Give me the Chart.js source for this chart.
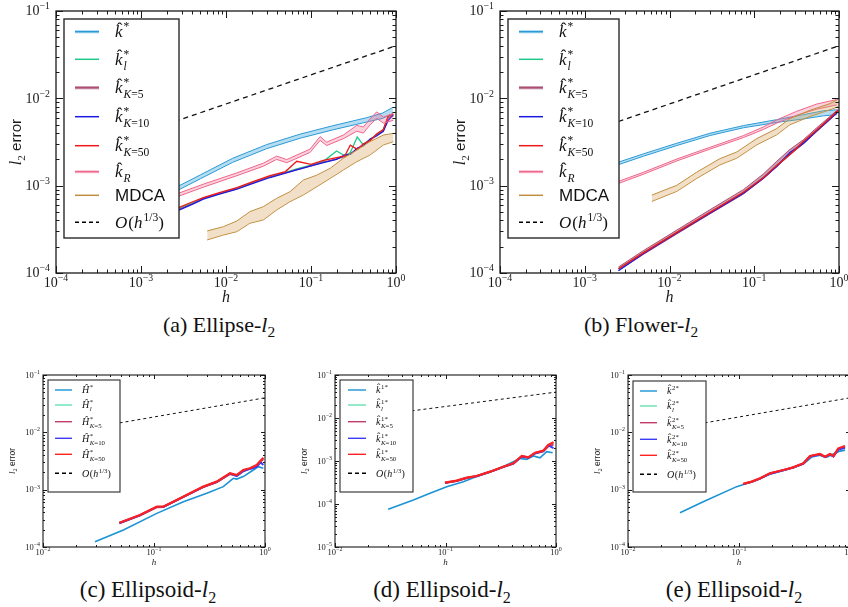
<!DOCTYPE html>
<html>
<head>
<meta charset="utf-8">
<title>l2 error</title>
<script src="https://cdn.jsdelivr.net/npm/chart.js@4.4.1/dist/chart.umd.min.js"></script>
<style>
  body { margin: 0; width: 848px; height: 607px; overflow: hidden; background: #fff; position: relative; }
  canvas { position: absolute; }
  .cap { position: absolute; font-family: 'Liberation Serif', serif; color: #111; transform: translateX(-50%); white-space: nowrap; line-height: 24px; }
  .cap sub { font-size: 70%; }
  .top { font-size: 22px; top: 313px; }
  .bot { font-size: 23px; top: 578px; }
</style>
</head>
<body>
<canvas id="cA" width="420" height="310" style="left:0;top:0"></canvas>
<canvas id="cB" width="428" height="310" style="left:420px;top:0"></canvas>
<canvas id="cC" width="290" height="215" style="left:0;top:360px"></canvas>
<canvas id="cD" width="290" height="215" style="left:290px;top:360px"></canvas>
<canvas id="cE" width="272" height="215" style="left:580px;top:360px"></canvas>
<div class="cap top" style="left:219px">(a) Ellipse-<i>l</i><sub>2</sub></div>
<div class="cap top" style="left:641px">(b) Flower-<i>l</i><sub>2</sub></div>
<div class="cap bot" style="left:148px">(c) Ellipsoid-<i>l</i><sub>2</sub></div>
<div class="cap bot" style="left:442px">(d) Ellipsoid-<i>l</i><sub>2</sub></div>
<div class="cap bot" style="left:734px">(e) Ellipsoid-<i>l</i><sub>2</sub></div>
<script>
// ---- axis ticks ----
const xTicksAB = [1e-4, 1e-3, 1e-2, 1e-1, 1];
const xExpAB = ['\u22124', '\u22123', '\u22122', '\u22121', '0'];
const yTicks4 = [1e-4, 1e-3, 1e-2, 1e-1];
const yExp4 = ['\u22124', '\u22123', '\u22122', '\u22121'];
const xTicksS = [1e-2, 1e-1, 1];
const xExpS = ['\u22122', '\u22121', '0'];
const yTicks5 = [1e-5, 1e-4, 1e-3, 1e-2, 1e-1];
const yExp5 = ['\u22125', '\u22124', '\u22123', '\u22122', '\u22121'];

// ---- reference line O(h^1/3) ----
const hRef = [0.0025, 1];
const refTop = [0.00543, 0.04];
const hRefS = [0.03, 1];
const refBot = [0.0124, 0.04];

// ---- (a) Ellipse ----
const hKsA = [0.0025, 0.005, 0.012, 0.03, 0.075, 0.18, 0.45, 0.7, 0.92];
const ksLoA = [8.5e-4, 1.2e-3, 1.85e-3, 2.65e-3, 3.5e-3, 4.35e-3, 5.35e-3, 5.9e-3, 6.7e-3];
const ksHiA = [9.4e-4, 1.33e-3, 2.06e-3, 2.95e-3, 3.9e-3, 4.85e-3, 6.0e-3, 6.8e-3, 7.9e-3];
const hRA = [0.0025, 0.0054, 0.0134, 0.0275, 0.0394, 0.0518, 0.0973, 0.128, 0.153, 0.24, 0.345, 0.413, 0.494, 0.593, 0.71, 0.93];
const kRLoA = [7.3e-4, 9.6e-4, 1.3e-3, 1.67e-3, 2.0e-3, 1.83e-3, 2.4e-3, 3.3e-3, 2.88e-3, 3.45e-3, 4.2e-3, 4.0e-3, 4.95e-3, 5.9e-3, 5.2e-3, 5.6e-3];
const kRHiA = [7.9e-4, 1.04e-3, 1.4e-3, 1.81e-3, 2.18e-3, 1.99e-3, 2.62e-3, 3.65e-3, 3.15e-3, 3.8e-3, 4.9e-3, 4.7e-3, 5.8e-3, 7.0e-3, 6.1e-3, 6.7e-3];
const hMdA = [0.006, 0.0093, 0.0134, 0.0191, 0.0275, 0.0394, 0.0566, 0.0813, 0.117, 0.168, 0.24, 0.345, 0.494, 0.71, 0.93];
const mdLoA = [2.39e-4, 2.72e-4, 2.97e-4, 3.71e-4, 4.05e-4, 5.26e-4, 6.56e-4, 7.82e-4, 9.72e-4, 1.21e-3, 1.51e-3, 1.88e-3, 2.24e-3, 2.92e-3, 3.19e-3];
const mdHiA = [3.03e-4, 3.39e-4, 3.94e-4, 5.04e-4, 5.75e-4, 7.16e-4, 8.53e-4, 1.16e-3, 1.32e-3, 1.58e-3, 2.06e-3, 2.56e-3, 3.19e-3, 3.8e-3, 3.97e-3];
const hClA = [0.0025, 0.004, 0.0054, 0.008, 0.0134, 0.02, 0.033, 0.05, 0.068, 0.1, 0.14, 0.2, 0.25, 0.29, 0.35, 0.41, 0.5, 0.59, 0.71, 0.81, 0.93];
const klA = [5.3e-4, 6.3e-4, 7.2e-4, 8.1e-4, 9.4e-4, 1.08e-3, 1.28e-3, 1.42e-3, 1.56e-3, 1.72e-3, 1.9e-3, 2.5e-3, 2.2e-3, 2.4e-3, 3.6e-3, 2.95e-3, 3.4e-3, 3.85e-3, 4.4e-3, 6.2e-3, 6.4e-3];
const k5A = [5.1e-4, 6.2e-4, 7.1e-4, 8.0e-4, 9.2e-4, 1.06e-3, 1.26e-3, 1.40e-3, 1.53e-3, 1.69e-3, 1.86e-3, 2.03e-3, 2.15e-3, 2.32e-3, 2.6e-3, 2.9e-3, 3.35e-3, 3.75e-3, 4.3e-3, 6.0e-3, 6.3e-3];
const k10A = [5.0e-4, 6.1e-4, 7.0e-4, 7.9e-4, 9.1e-4, 1.05e-3, 1.24e-3, 1.39e-3, 1.52e-3, 1.68e-3, 1.84e-3, 2.0e-3, 2.25e-3, 2.28e-3, 2.7e-3, 2.85e-3, 3.45e-3, 3.7e-3, 4.2e-3, 5.6e-3, 6.5e-3];
const k50A = [5.4e-4, 6.5e-4, 7.3e-4, 8.2e-4, 9.5e-4, 1.1e-3, 1.3e-3, 1.45e-3, 1.9e-3, 1.75e-3, 1.95e-3, 2.1e-3, 2.2e-3, 2.9e-3, 2.6e-3, 3.0e-3, 3.3e-3, 3.9e-3, 4.4e-3, 6.3e-3, 6.6e-3];

// ---- (b) Flower ----
const hKsB = [0.0025, 0.0049, 0.0122, 0.030, 0.0743, 0.184, 0.379, 0.653, 0.94];
const ksLoB = [1.74e-3, 2.17e-3, 2.88e-3, 3.75e-3, 4.6e-3, 5.3e-3, 5.8e-3, 6.3e-3, 6.5e-3];
const ksHiB = [1.86e-3, 2.31e-3, 3.06e-3, 3.98e-3, 4.87e-3, 5.7e-3, 6.5e-3, 7.2e-3, 7.4e-3];
const hRB = [0.0025, 0.0049, 0.0122, 0.030, 0.0743, 0.128, 0.184, 0.316, 0.546, 0.94];
const kRLoB = [1.06e-3, 1.35e-3, 1.92e-3, 2.62e-3, 3.55e-3, 4.4e-3, 5.2e-3, 6.4e-3, 7.5e-3, 8.4e-3];
const kRHiB = [1.12e-3, 1.42e-3, 2.02e-3, 2.75e-3, 3.74e-3, 4.7e-3, 5.65e-3, 7.1e-3, 8.6e-3, 9.7e-3];
const hMdB = [0.0062, 0.0122, 0.021, 0.0394, 0.0621, 0.107, 0.184, 0.264, 0.455, 0.783, 0.98];
const mdLoB = [6.6e-4, 8.6e-4, 1.21e-3, 1.73e-3, 2.06e-3, 2.93e-3, 3.82e-3, 4.98e-3, 6.2e-3, 7.4e-3, 8.0e-3];
const mdHiB = [7.8e-4, 1.01e-3, 1.43e-3, 2.04e-3, 2.43e-3, 3.46e-3, 4.5e-3, 5.87e-3, 7.3e-3, 8.7e-3, 9.8e-3];
const hClB = [0.0025, 0.0049, 0.0122, 0.030, 0.0743, 0.128, 0.184, 0.264, 0.379, 0.546, 0.783, 0.98];
const klB = [1.11e-4, 1.69e-4, 2.9e-4, 4.9e-4, 8.3e-4, 1.24e-3, 1.7e-3, 2.3e-3, 3.1e-3, 4.3e-3, 5.9e-3, 7.2e-3];
const k5LoB = [1.07e-4, 1.63e-4, 2.8e-4, 4.75e-4, 8.0e-4, 1.2e-3, 1.65e-3, 2.25e-3, 3.0e-3, 4.15e-3, 5.7e-3, 7.0e-3];
const k5HiB = [1.17e-4, 1.8e-4, 3.1e-4, 5.3e-4, 9.0e-4, 1.36e-3, 1.9e-3, 2.6e-3, 3.35e-3, 4.6e-3, 6.2e-3, 7.5e-3];
const k10B = [1.06e-4, 1.66e-4, 2.87e-4, 4.85e-4, 8.2e-4, 1.22e-3, 1.66e-3, 2.4e-3, 3.05e-3, 4.25e-3, 5.8e-3, 7.0e-3];
const k50B = [1.12e-4, 1.7e-4, 2.92e-4, 4.95e-4, 8.4e-4, 1.23e-3, 1.7e-3, 2.28e-3, 3.2e-3, 4.35e-3, 5.95e-3, 7.3e-3];

// ---- (c) Ellipsoid, H ----
const hHC = [0.0294, 0.053, 0.106, 0.184, 0.299, 0.421, 0.518, 0.556, 0.638, 0.785, 0.871, 0.966];
const hStarC = [1.24e-4, 1.98e-4, 3.86e-4, 6.17e-4, 8.63e-4, 1.13e-3, 1.58e-3, 1.53e-3, 1.69e-3, 2.2e-3, 2.52e-3, 2.36e-3];
const hKC = [0.0488, 0.0748, 0.106, 0.121, 0.16, 0.211, 0.278, 0.367, 0.484, 0.556, 0.638, 0.733, 0.841, 0.914, 0.966];
const hlC = [2.63e-4, 3.58e-4, 5.0e-4, 5.02e-4, 6.55e-4, 8.6e-4, 1.12e-3, 1.37e-3, 1.9e-3, 1.79e-3, 2.18e-3, 2.34e-3, 2.65e-3, 3.2e-3, 3.5e-3];
const h5C = [2.6e-4, 3.55e-4, 4.95e-4, 5.0e-4, 6.5e-4, 8.5e-4, 1.11e-3, 1.36e-3, 1.88e-3, 1.78e-3, 2.15e-3, 2.33e-3, 2.62e-3, 3.15e-3, 3.4e-3];
const h10C = [2.62e-4, 3.58e-4, 5.0e-4, 5.0e-4, 6.55e-4, 8.55e-4, 1.12e-3, 1.36e-3, 1.9e-3, 1.72e-3, 2.1e-3, 2.3e-3, 2.5e-3, 3.0e-3, 2.7e-3];
const h50C = [2.65e-4, 3.61e-4, 5.05e-4, 5.05e-4, 6.61e-4, 8.63e-4, 1.13e-3, 1.38e-3, 1.93e-3, 1.8e-3, 2.2e-3, 2.36e-3, 2.69e-3, 3.2e-3, 3.6e-3];

// ---- (d) Ellipsoid, k1 ----
const hBD = [0.0303, 0.0512, 0.0724, 0.1026, 0.145, 0.179, 0.236, 0.311, 0.411, 0.472, 0.543, 0.624, 0.716, 0.824, 0.933];
const k1D = [7.52e-5, 1.24e-4, 1.77e-4, 2.53e-4, 3.3e-4, 4.1e-4, 5.16e-4, 6.75e-4, 9.64e-4, 1.15e-3, 1.09e-3, 1.31e-3, 1.19e-3, 1.65e-3, 1.56e-3];
const hKD = [0.0989, 0.126, 0.156, 0.191, 0.253, 0.333, 0.411, 0.49, 0.562, 0.646, 0.767, 0.851, 0.95];
const klD = [3.11e-4, 3.47e-4, 4.06e-4, 4.46e-4, 5.62e-4, 7.32e-4, 8.8e-4, 1.29e-3, 1.21e-3, 1.54e-3, 1.72e-3, 2.3e-3, 2.6e-3];
const k5D = [3.08e-4, 3.44e-4, 4.02e-4, 4.42e-4, 5.58e-4, 7.25e-4, 8.7e-4, 1.27e-3, 1.19e-3, 1.5e-3, 1.68e-3, 2.2e-3, 2.4e-3];
const k10D = [3.1e-4, 3.45e-4, 4.05e-4, 4.45e-4, 5.6e-4, 7.3e-4, 8.75e-4, 1.28e-3, 1.2e-3, 1.52e-3, 1.7e-3, 2.3e-3, 2.0e-3];
const k50D = [3.13e-4, 3.49e-4, 4.09e-4, 4.48e-4, 5.65e-4, 7.38e-4, 8.83e-4, 1.31e-3, 1.22e-3, 1.56e-3, 1.74e-3, 2.36e-3, 2.75e-3];

// ---- (e) Ellipsoid, k2 ----
const hBE = [0.0294, 0.0476, 0.0953, 0.135, 0.19, 0.269, 0.38, 0.452, 0.537, 0.617, 0.708, 0.813, 0.902];
const k2E = [3.97e-4, 6.17e-4, 1.13e-3, 1.4e-3, 1.85e-3, 2.25e-3, 2.8e-3, 3.7e-3, 4.0e-3, 3.7e-3, 4.2e-3, 4.7e-3, 4.9e-3];
const hKE = [0.109, 0.13, 0.155, 0.19, 0.251, 0.308, 0.38, 0.437, 0.537, 0.596, 0.661, 0.708, 0.785, 0.902];
const klE = [1.26e-3, 1.37e-3, 1.57e-3, 1.92e-3, 2.19e-3, 2.44e-3, 2.86e-3, 3.82e-3, 4.15e-3, 3.73e-3, 4.15e-3, 3.83e-3, 5.1e-3, 5.6e-3];
const k5E = [1.25e-3, 1.37e-3, 1.57e-3, 1.91e-3, 2.19e-3, 2.44e-3, 2.86e-3, 3.83e-3, 4.15e-3, 3.74e-3, 4.15e-3, 3.84e-3, 5.15e-3, 5.6e-3];
const k10E = [1.25e-3, 1.37e-3, 1.56e-3, 1.9e-3, 2.18e-3, 2.43e-3, 2.85e-3, 3.8e-3, 4.1e-3, 3.7e-3, 4.1e-3, 3.8e-3, 5.0e-3, 5.4e-3];
const k50E = [1.26e-3, 1.38e-3, 1.58e-3, 1.93e-3, 2.2e-3, 2.45e-3, 2.88e-3, 3.86e-3, 4.19e-3, 3.76e-3, 4.19e-3, 3.86e-3, 5.26e-3, 5.78e-3];

// ---- legend labels: [text, flags] i=italic r=roman S=sans h=hat ^=sup _=sub ----
const K5 = [['K', '_i'], ['=5', '_r']], K10 = [['K', '_i'], ['=10', '_r']], K50 = [['K', '_i'], ['=50', '_r']];
const labO = [['O', 'i'], ['(', 'r'], ['h', 'i'], ['1/3', '^r'], [')', 'r']];
function kLabels(base, sup) {
  return [
    [base, [sup, '^r']],
    [base, [sup, '^r'], ['l', '_i']],
    [base, [sup, '^r']].concat(K5),
    [base, [sup, '^r']].concat(K10),
    [base, [sup, '^r']].concat(K50)
  ];
}
const labsTop = kLabels(['k', 'ih'], '*').concat([[['k', 'ih'], ['R', '_i']], [['MDCA', 'S']], labO]);
const labsC = kLabels(['\u0124', 'i'], '*').concat([labO]);
const labsD = kLabels(['k', 'ih'], '1*').concat([labO]);
const labsE = kLabels(['k', 'ih'], '2*').concat([labO]);

// ---- colours ----
const cKs = '#2a9bd6', fKs = 'rgba(42,155,214,0.35)';
const cKl = '#1ec98a';
const cK5 = '#b04e72', fK5 = 'rgba(140,40,90,0.45)';
const cK10 = '#1c1ce0';
const cK50 = '#f01818';
const cKR = '#f0668c', fKR = 'rgba(240,102,140,0.3)';
const cMd = '#c08e40', fMd = 'rgba(215,165,95,0.35)';
const cB1 = '#1b93d4', cB2 = '#66e0b0', cB3 = '#c23a6a', cB4 = '#3c3cf5', cB5 = '#ff2020';

function pts(h, v) { return h.map((x, i) => ({x: x, y: v[i]})); }
function ln(h, v, c, w, dash) {
  return {data: pts(h, v), borderColor: c, borderWidth: w || 1.3, borderDash: dash || [], pointRadius: 0, fill: false, tension: 0};
}
function band(h, lo, hi, c, f, w) {
  const up = ln(h, hi, c, w || 1);
  up.fill = '-1';
  up.backgroundColor = f;
  return [ln(h, lo, c, w || 1), up];
}

function minors(lo, hi) {
  const out = [];
  for (let e = Math.round(Math.log10(lo)); e < Math.round(Math.log10(hi)); e++)
    for (let k = 2; k < 10; k++) out.push(k * Math.pow(10, e));
  return out;
}

function pow10(ctx, x, y, e, fs, align) {
  const f1 = fs + "px 'Liberation Serif', serif", f2 = (fs * 0.7) + "px 'Liberation Serif', serif";
  ctx.font = f1;
  const w1 = ctx.measureText('10').width;
  ctx.font = f2;
  const w2 = ctx.measureText(e).width;
  const x0 = align === 'center' ? x - (w1 + w2) / 2 : x - w1 - w2;
  ctx.font = f1;
  ctx.fillText('10', x0, y);
  ctx.font = f2;
  ctx.fillText(e, x0 + w1, y - fs * 0.42);
}

function drawLabel(ctx, x, y, segs, fs) {
  let cx = x, supStart = x, prev = '';
  segs.forEach(([t, k]) => {
    const sup = k.includes('^'), sub = k.includes('_');
    const size = (sup || sub) ? fs * 0.68 : fs;
    const fam = k.includes('S') ? "'Liberation Sans', sans-serif" : "'Liberation Serif', serif";
    ctx.font = (k.includes('i') ? 'italic ' : '') + size + 'px ' + fam;
    if (sup && prev !== 'sup') supStart = cx;
    if (sub && prev === 'sup') cx = supStart;
    const dy = sup ? -fs * 0.4 : sub ? fs * 0.3 : 0;
    ctx.fillText(t, cx, y + dy);
    const w = ctx.measureText(t).width;
    if (k.includes('h')) {
      ctx.font = size + "px 'Liberation Serif', serif";
      ctx.textAlign = 'center';
      ctx.fillText('\u02C6', cx + w * 0.62, y - fs * 0.2);
      ctx.textAlign = 'left';
    }
    cx += w + (k.includes('i') && !sup && !sub ? fs * 0.06 : 0);
    prev = sup ? 'sup' : sub ? 'sub' : 'base';
  });
}

const decoPlugin = {
  id: 'deco',
  afterDraw(chart, args, o) {
    const ctx = chart.ctx, a = chart.chartArea, sx = chart.scales.x, sy = chart.scales.y;
    ctx.save();
    ctx.fillStyle = '#1a1a1a';
    ctx.strokeStyle = '#1a1a1a';
    ctx.textAlign = 'left';
    ctx.textBaseline = 'alphabetic';

    // inside ticks on all four sides
    ctx.lineWidth = 1;
    ctx.beginPath();
    const xt = (v, len) => {
      const p = Math.round(sx.getPixelForValue(v)) + 0.5;
      ctx.moveTo(p, a.bottom); ctx.lineTo(p, a.bottom - len);
      ctx.moveTo(p, a.top); ctx.lineTo(p, a.top + len);
    };
    const yt = (v, len) => {
      const p = Math.round(sy.getPixelForValue(v)) + 0.5;
      ctx.moveTo(a.left, p); ctx.lineTo(a.left + len, p);
      ctx.moveTo(a.right, p); ctx.lineTo(a.right - len, p);
    };
    o.xTicks.forEach(v => xt(v, o.maj));
    o.yTicks.forEach(v => yt(v, o.maj));
    minors(sx.min, sx.max).forEach(v => xt(v, o.mnr));
    minors(sy.min, sy.max).forEach(v => yt(v, o.mnr));
    ctx.stroke();

    // frame
    ctx.lineWidth = o.lw;
    ctx.strokeRect(a.left, a.top, a.right - a.left, a.bottom - a.top);

    // tick labels
    o.xTicks.forEach((v, i) => pow10(ctx, sx.getPixelForValue(v), a.bottom + o.xl, o.xExp[i], o.fs, 'center'));
    o.yTicks.forEach((v, i) => pow10(ctx, a.left - o.yl, sy.getPixelForValue(v) + o.fs * 0.3, o.yExp[i], o.fs, 'right'));

    // axis titles
    ctx.font = 'italic ' + o.tfs + "px 'Liberation Serif', serif";
    ctx.textAlign = 'center';
    ctx.fillText('h', (a.left + a.right) / 2, a.bottom + o.xt);
    ctx.textAlign = 'left';
    ctx.save();
    ctx.translate(a.left - o.yt, (a.top + a.bottom) / 2);
    ctx.rotate(-Math.PI / 2);
    const fI = 'italic ' + o.tfs + "px 'Liberation Serif', serif";
    const fS = (o.tfs * 0.7) + "px 'Liberation Serif', serif";
    const fT = (o.tfs * 0.95) + "px 'Liberation Sans', sans-serif";
    ctx.font = fI; const w1 = ctx.measureText('l').width;
    ctx.font = fS; const w2 = ctx.measureText('2').width;
    ctx.font = fT; const w3 = ctx.measureText(' error').width;
    let tx = -(w1 + w2 + w3) / 2;
    const by = o.tfs * 0.35;
    ctx.font = fI; ctx.fillText('l', tx, by); tx += w1;
    ctx.font = fS; ctx.fillText('2', tx, by + o.tfs * 0.25); tx += w2;
    ctx.font = fT; ctx.fillText(' error', tx, by);
    ctx.restore();

    // legend box
    const L = o.leg;
    ctx.fillStyle = '#fff';
    ctx.fillRect(L.x, L.y, L.w, L.h);
    ctx.lineWidth = L.lw;
    ctx.strokeStyle = '#2a2a2a';
    ctx.strokeRect(L.x, L.y, L.w, L.h);
    L.items.forEach((it, i) => {
      const ry = L.y + L.rows[i];
      ctx.save();
      if (it.f) {
        ctx.lineWidth = L.sw * 2.2; ctx.strokeStyle = it.f;
        ctx.beginPath(); ctx.moveTo(L.x + L.s0, ry); ctx.lineTo(L.x + L.s1, ry); ctx.stroke();
      }
      ctx.lineWidth = L.sw; ctx.strokeStyle = it.c;
      if (it.d) ctx.setLineDash([4, 3]);
      ctx.beginPath(); ctx.moveTo(L.x + L.s0, ry); ctx.lineTo(L.x + L.s1, ry); ctx.stroke();
      ctx.restore();
      ctx.fillStyle = '#111';
      drawLabel(ctx, L.x + L.tx, ry + L.fs * 0.32, it.lab, L.fs);
    });
    ctx.restore();
  }
};

function makeChart(id, datasets, pad, xr, yr, deco) {
  datasets.forEach((d, i) => { d.order = -i; });
  return new Chart(document.getElementById(id), {
    type: 'line',
    data: {datasets: datasets},
    options: {
      responsive: false,
      animation: false,
      devicePixelRatio: 1,
      events: [],
      layout: {padding: pad},
      plugins: {legend: {display: false}, tooltip: {enabled: false}, deco: deco},
      scales: {
        x: {type: 'logarithmic', min: xr[0], max: xr[1], display: false},
        y: {type: 'logarithmic', min: yr[0], max: yr[1], display: false}
      }
    },
    plugins: [decoPlugin]
  });
}

const rowsTop = [12.7, 40.3, 68.7, 97.7, 126.7, 152.7, 176.3, 203.3];
const rowsBot = [10, 25, 41.7, 58.3, 74.3, 93.3];
const topDeco = {fs: 14, maj: 7, mnr: 3.5, lw: 1.3, xl: 14, yl: 6, tfs: 16, xt: 29, yt: 41,
  xTicks: xTicksAB, xExp: xExpAB, yTicks: yTicks4, yExp: yExp4};
function topItems() {
  const c = [[cKs, fKs], [cKl, null], [cK5, fK5], [cK10, null], [cK50, null], [cKR, fKR], [cMd, null]];
  return labsTop.map((lab, i) => i < 7 ? {lab: lab, c: c[i][0], f: c[i][1]} : {lab: lab, c: '#000', d: true});
}
function botItems(labs) {
  const c = [cB1, cB2, cB3, cB4, cB5];
  return labs.map((lab, i) => i < 5 ? {lab: lab, c: c[i]} : {lab: lab, c: '#000', d: true});
}

// (a)
makeChart('cA', [].concat(
  band(hKsA, ksLoA, ksHiA, cKs, fKs),
  [ln(hClA, klA, cKl), ln(hClA, k5A, cK5), ln(hClA, k10A, cK10), ln(hClA, k50A, cK50)],
  band(hRA, kRLoA, kRHiA, cKR, fKR),
  band(hMdA, mdLoA, mdHiA, cMd, fMd),
  [ln(hRef, refTop, '#111', 1.3, [5, 4])]
), {left: 56, top: 11, right: 24, bottom: 37}, [1e-4, 1], [1e-4, 1e-1],
  Object.assign({}, topDeco, {leg: {x: 64, y: 19, w: 115, h: 219, lw: 1.4, rows: rowsTop, s0: 11, s1: 35, tx: 51, fs: 17, sw: 1.5, items: topItems()}}));

// (b)
makeChart('cB', [].concat(
  band(hKsB, ksLoB, ksHiB, cKs, fKs),
  [ln(hClB, klB, cKl)],
  band(hClB, k5LoB, k5HiB, cK5, fK5),
  [ln(hClB, k10B, cK10), ln(hClB, k50B, cK50)],
  band(hRB, kRLoB, kRHiB, cKR, fKR),
  band(hMdB, mdLoB, mdHiB, cMd, fMd),
  [ln(hRef, refTop, '#111', 1.3, [5, 4])]
), {left: 80, top: 11, right: 9, bottom: 37}, [1e-4, 1], [1e-4, 1e-1],
  Object.assign({}, topDeco, {leg: {x: 88, y: 19, w: 111, h: 219, lw: 1.4, rows: rowsTop, s0: 11, s1: 35, tx: 51, fs: 17, sw: 1.5, items: topItems()}}));

const botDeco = {fs: 8.5, maj: 4, mnr: 2, lw: 1.1, xl: 8, yl: 3, tfs: 9, xt: 18, yt: 31,
  xTicks: xTicksS, xExp: xExpS};

// (c)
makeChart('cC', [
  ln(hHC, hStarC, cB1, 1.6), ln(hKC, hlC, cB2, 2), ln(hKC, h5C, cB3, 2),
  ln(hKC, h10C, cB4, 2), ln(hKC, h50C, cB5, 2.2), ln(hRefS, refBot, '#111', 1, [3, 3])
], {left: 43, top: 15, right: 25, bottom: 28}, [1e-2, 1], [1e-4, 1e-1],
  Object.assign({}, botDeco, {yTicks: yTicks4, yExp: yExp4,
    leg: {x: 48, y: 20, w: 72, h: 112, lw: 1.1, rows: rowsBot, s0: 7, s1: 24, tx: 34, fs: 10, sw: 1.4, items: botItems(labsC)}}));

// (d)
makeChart('cD', [
  ln(hBD, k1D, cB1, 1.6), ln(hKD, klD, cB2, 2), ln(hKD, k5D, cB3, 2),
  ln(hKD, k10D, cB4, 2), ln(hKD, k50D, cB5, 2.2), ln(hRefS, refBot, '#111', 1, [3, 3])
], {left: 45, top: 15, right: 24, bottom: 28}, [1e-2, 1], [1e-5, 1e-1],
  Object.assign({}, botDeco, {yTicks: yTicks5, yExp: yExp5,
    leg: {x: 50, y: 20, w: 73, h: 112, lw: 1.1, rows: rowsBot, s0: 8, s1: 26, tx: 36, fs: 10, sw: 1.4, items: botItems(labsD)}}));

// (e)
makeChart('cE', [
  ln(hBE, k2E, cB1, 1.6), ln(hKE, klE, cB2, 2), ln(hKE, k5E, cB3, 2),
  ln(hKE, k10E, cB4, 2), ln(hKE, k50E, cB5, 2.2), ln(hRefS, refBot, '#111', 1, [3, 3])
], {left: 48, top: 15, right: 2, bottom: 28}, [1e-2, 1], [1e-4, 1e-1],
  Object.assign({}, botDeco, {yTicks: yTicks4, yExp: yExp4,
    leg: {x: 53, y: 21, w: 73, h: 111, lw: 1.1, rows: rowsBot, s0: 7, s1: 24, tx: 34, fs: 10, sw: 1.4, items: botItems(labsE)}}));
</script>
</body>
</html>
